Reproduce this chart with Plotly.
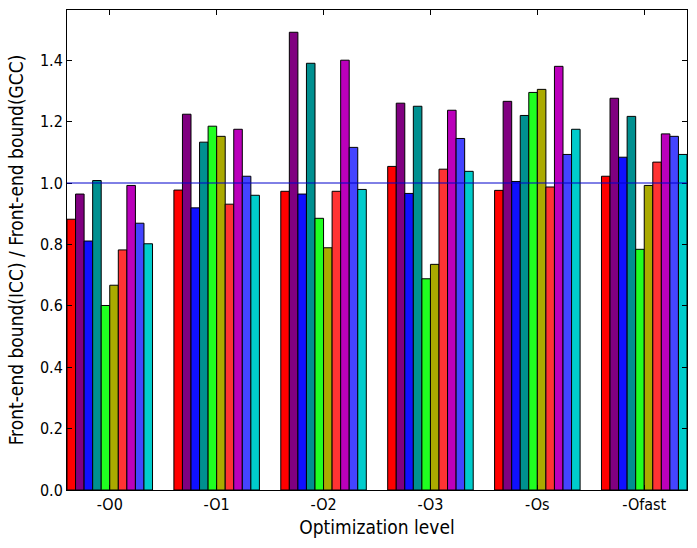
import plotly.graph_objects as go

groups = ["-O0", "-O1", "-O2", "-O3", "-Os", "-Ofast"]
colors = ["#ff0000", "#800080", "#1010ff", "#009090", "#20ff20",
          "#aaaa00", "#ff3333", "#bb00bb", "#4444ff", "#00cccc"]

s0 = [0.882, 0.977, 0.973, 1.054, 0.976, 1.022]
s1 = [0.964, 1.224, 1.491, 1.260, 1.266, 1.276]
s2 = [0.811, 0.919, 0.964, 0.966, 1.005, 1.084]
s3 = [1.008, 1.133, 1.390, 1.250, 1.220, 1.217]
s4 = [0.601, 1.185, 0.885, 0.688, 1.295, 0.784]
s5 = [0.667, 1.152, 0.789, 0.735, 1.305, 0.992]
s6 = [0.782, 0.931, 0.973, 1.045, 0.987, 1.068]
s7 = [0.992, 1.175, 1.400, 1.237, 1.380, 1.160]
s8 = [0.869, 1.022, 1.116, 1.145, 1.093, 1.152]
s9 = [0.802, 0.960, 0.979, 1.038, 1.175, 1.093]
series = [s0, s1, s2, s3, s4, s5, s6, s7, s8, s9]

yticks = [0.0, 0.2, 0.4, 0.6, 0.8, 1.0, 1.2, 1.4]

fig = go.Figure()
for vals, c in zip(series, colors):
    fig.add_trace(go.Bar(x=groups, y=vals, marker=dict(color=c, line=dict(color="black", width=1)),
                         showlegend=False))

fig.add_shape(type="line", xref="paper", yref="y", x0=0, x1=1, y0=1.0, y1=1.0,
              line=dict(color="#0000cc", width=1))

font = dict(family="DejaVu Sans Condensed, DejaVu Sans", size=16, color="black")
fig.update_layout(
    width=697, height=548,
    margin=dict(l=67, r=10, t=10, b=58),
    paper_bgcolor="white", plot_bgcolor="white",
    barmode="group", bargap=0.2, bargroupgap=0,
    font=font,
    xaxis=dict(range=[-0.4, 5.4], showline=True, linecolor="black", linewidth=1, mirror="ticks",
               ticks="inside", ticklen=5, tickcolor="black", showgrid=False,
               title=dict(text="Optimization level", standoff=7), tickfont=font),
    yaxis=dict(range=[0, 1.5635], showline=True, linecolor="black", linewidth=1, mirror="ticks",
               ticks="inside", ticklen=5, tickcolor="black", showgrid=False, zeroline=False,
               tickvals=yticks, tickformat=".1f",
               title=dict(text="Front-end bound(ICC) / Front-end bound(GCC)", standoff=11), tickfont=font),
)
fig.write_html("out.html")
